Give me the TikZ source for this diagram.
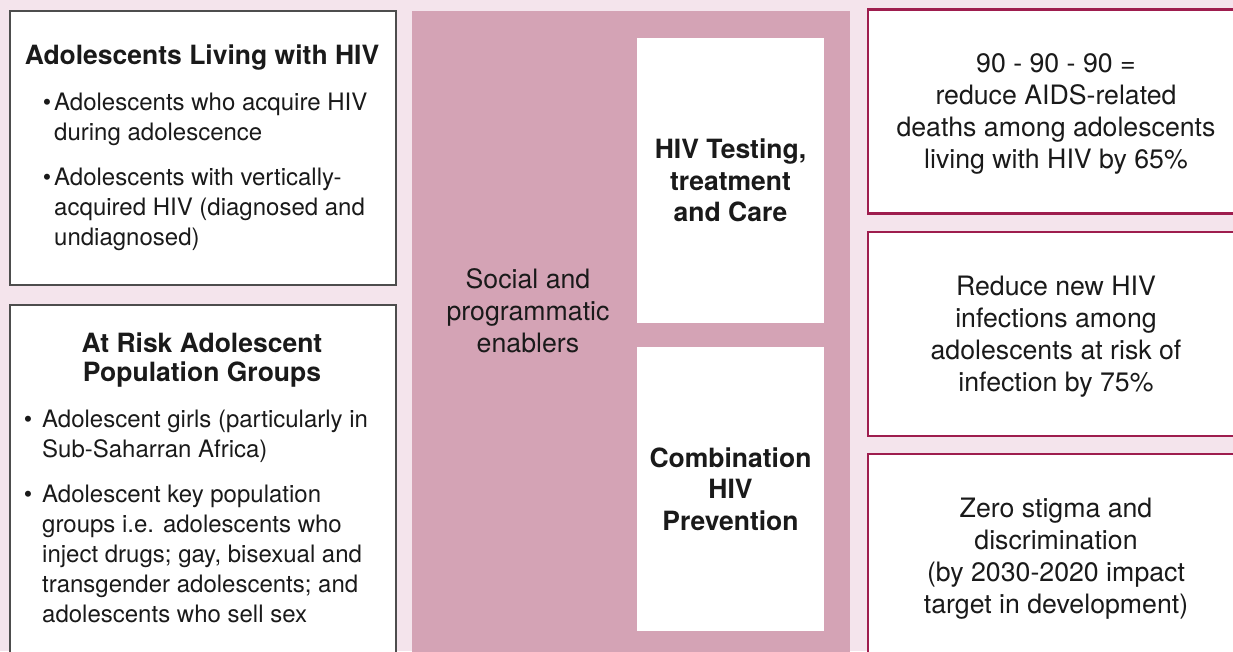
\documentclass[tikz,border=0pt]{standalone}
\usepackage{fontspec}
\setmainfont{TeX Gyre Heros}
\definecolor{bg_color}{HTML}{F4E4EC}
\definecolor{panel_color}{HTML}{D4A3B5}
\definecolor{goal_color}{HTML}{9E1D4E}
\definecolor{group_color}{HTML}{4D4D4D}
\definecolor{tx_color}{HTML}{1A1A1A}
\newcommand{\hivbullet}[1]{\llap{\textbullet\hspace{#1}}}

\begin{document}
\begin{tikzpicture}[x=1pt, y=-1pt,
    every node/.append style={text=tx_color},
    groupbox/.style={draw=group_color, line width=2pt, fill=white, anchor=north west, inner sep=0pt, minimum width=386pt},
    grouptitle/.style={font=\bfseries\fontsize{26.5}{29}\selectfont, align=center, anchor=north, inner sep=0pt},
    grouplist/.style={font=\fontsize{24}{30}\selectfont, align=left, anchor=north west, inner sep=0pt},
    servicebox/.style={fill=white, minimum width=187pt, inner sep=0pt, align=center, font=\bfseries\fontsize{26.5}{31.5}\selectfont},
    goalbox/.style={draw=goal_color, line width=2.5pt, fill=white, minimum width=376pt, minimum height=204pt, inner sep=0pt, text depth=0pt, align=center, font=\fontsize{26.7}{32}\selectfont}]
        \useasboundingbox (0,0) rectangle (1233,651);
        \clip (0,0) rectangle (1233,651);
        \fill[bg_color] (0,0) rectangle (1233,651);

        % who
        \node[groupbox, minimum height=274pt] (living) at (9,10) {};
        \node[grouptitle] (living_title) at (202,45) {Adolescents Living with HIV};
        \node[grouplist] (living_list) at (54,92.5) {\hivbullet{3pt}Adolescents who acquire HIV\\during adolescence\\[15pt]\hivbullet{3pt}Adolescents with vertically-\\acquired HIV (diagnosed and\\undiagnosed)};

        \node[groupbox, minimum height=356pt] (atrisk) at (9,304) {};
        \node[grouptitle] (atrisk_title) at (202,332.5) {At Risk Adolescent\\Population Groups};
        \node[grouplist] (atrisk_list) at (42,409.5) {\hivbullet{10pt}Adolescent girls (particularly in\\Sub-Saharran Africa)\\[15pt]\hivbullet{10pt}Adolescent key population\\groups i.e. adolescents who\\inject drugs; gay, bisexual and\\transgender adolescents; and\\adolescents who sell sex};

        % what
        \node[fill=panel_color, minimum width=438pt, minimum height=649pt, anchor=north west, inner sep=0pt] (enablers) at (412,11) {};
        \node[align=center, inner sep=0pt, text depth=0pt, font=\fontsize{26.7}{32}\selectfont] (enablers_text) at (528,311) {Social and\\programmatic\\enablers};
        \node[servicebox, minimum height=285pt] (testing) at (730.5,180.5) {HIV Testing,\\treatment\\and Care};
        \node[servicebox, minimum height=284pt] (prevention) at (730.5,489) {Combination\\HIV\\Prevention};

        % targets
        \node[goalbox] (goal_deaths) at (1056,111.5) {90 - 90 - 90 =\\reduce AIDS-related\\deaths among adolescents\\living with HIV by 65\%};
        \node[goalbox] (goal_infections) at (1056,334) {Reduce new HIV\\infections among\\adolescents at risk of\\infection by 75\%};
        \node[goalbox] (goal_stigma) at (1056,556) {Zero stigma and\\discrimination\\(by 2030-2020 impact\\target in development)};
      \end{tikzpicture}
\end{document}
